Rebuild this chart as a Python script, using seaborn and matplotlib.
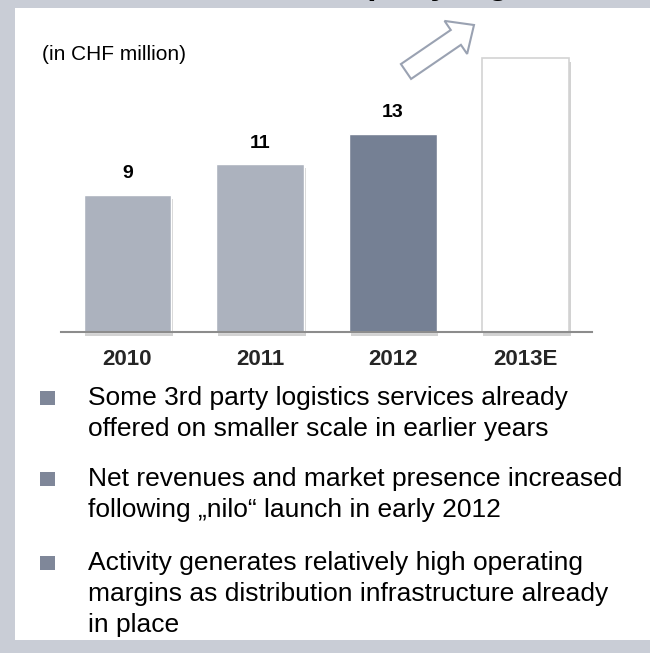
import matplotlib
matplotlib.use("Agg")
import matplotlib.pyplot as plt
import matplotlib.patches as mpatches
import matplotlib.patheffects as pe
import seaborn as sns

# ---- data ----
years = ["2010", "2011", "2012", "2013E"]
revenues = [9, 11, 13, 18]
value_labels = ["9", "11", "13", ""]
bar_colors = ["#ACB2BE", "#ACB2BE", "#758094", "#FFFFFF"]
unit_note = "(in CHF million)"
title_fragment = "3rd party logistics"
bullet_groups = [
    ["Some 3rd party logistics services already",
     "offered on smaller scale in earlier years"],
    ["Net revenues and market presence increased",
     "following \u201enilo\u201c launch in early 2012"],
    ["Activity generates relatively high operating",
     "margins as distribution infrastructure already",
     "in place"],
]

sns.set_theme(style="white")
plt.rcParams["font.family"] = ["Liberation Sans", "DejaVu Sans"]

W, H = 650, 653
fig = plt.figure(figsize=(W / 100, H / 100), dpi=100)
fig.patch.set_facecolor("#C9CDD6")

# background / decoration canvas in pixel units
bg = fig.add_axes([0, 0, 1, 1], zorder=0)
bg.set_xlim(0, W)
bg.set_ylim(H, 0)
bg.axis("off")
bg.text(306, -6, title_fragment, fontsize=24, fontweight="bold",
        ha="left", va="baseline", color="black", clip_on=False, zorder=1)
bg.add_patch(mpatches.Rectangle((15, 8), W - 15, 640 - 8,
                                facecolor="white", edgecolor="none", zorder=2))
bg.text(42, 54, unit_note, fontsize=15, ha="left", va="center",
        color="black", zorder=3)

# arrow
bg.add_patch(mpatches.FancyArrow(406, 71.5, 68, -46.5, width=18,
                                 head_width=40, head_length=22,
                                 length_includes_head=True,
                                 facecolor="white", edgecolor="#9AA2B2",
                                 linewidth=1.5, zorder=3))

# bullets
group_starts = [398, 479, 563]
line_step = 31
for start, lines in zip(group_starts, bullet_groups):
    bg.add_patch(mpatches.Rectangle((40, start - 7), 15, 14,
                                    facecolor="#7F8799", edgecolor="none",
                                    zorder=3))
    for i, line in enumerate(lines):
        bg.text(88, start + i * line_step, line, fontsize=19,
                ha="left", va="center", color="black", zorder=3)

# chart axes
base_y = 332
px_per_unit = 15.25
ax_h = 300
ax = fig.add_axes([61 / W, (H - base_y) / H, 531 / W, ax_h / H], zorder=1)
ax.patch.set_alpha(0)
sns.barplot(x=years, y=revenues, hue=years,
            palette=dict(zip(years, bar_colors)), legend=False,
            width=0.66, saturation=1, ax=ax)
ax.set_xlim(-0.5, 3.5)
ax.set_ylim(0, ax_h / px_per_unit)
for s in ["top", "left", "right"]:
    ax.spines[s].set_visible(False)
ax.spines["bottom"].set_color("#8C8C8C")
ax.spines["bottom"].set_linewidth(1.5)
ax.set_yticks([])
ax.set_xlabel("")
ax.set_ylabel("")
ax.tick_params(axis="x", length=0, pad=12, labelsize=16)
for t in ax.get_xticklabels():
    t.set_fontweight("bold")

for patch, lab, col in zip(ax.patches, value_labels, bar_colors):
    patch.set_clip_on(False)
    if col.upper() == "#FFFFFF":
        patch.set_edgecolor("#D3D3D3")
        patch.set_linewidth(1.2)
    patch.set_path_effects([
        pe.SimplePatchShadow(offset=(1.2, -3), shadow_rgbFace="#808080",
                             alpha=0.35),
        pe.Normal()])
    if lab:
        ax.annotate(lab, (patch.get_x() + patch.get_width() / 2,
                          patch.get_height()),
                    xytext=(0, 15), textcoords="offset points",
                    ha="center", va="center", fontsize=14,
                    fontweight="bold", color="black")

fig.savefig("out.png", dpi=100, facecolor=fig.get_facecolor())
